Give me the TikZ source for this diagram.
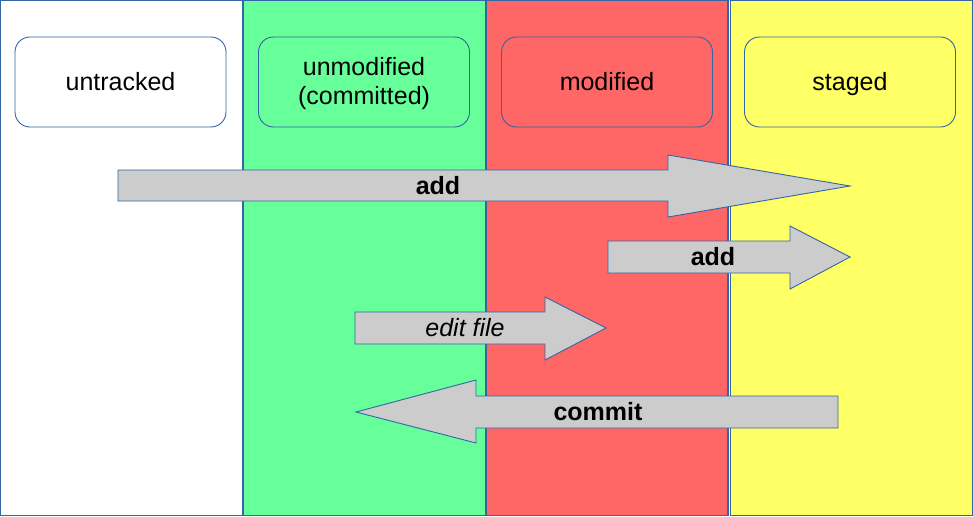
\documentclass[tikz,border=0pt]{standalone}
\usepackage{fontspec}
\setmainfont{Liberation Sans}
\begin{document}
\begin{tikzpicture}[x=1pt,y=-1pt,
  bordercol/.style={draw=blueline,line width=1.2pt},
  statebox/.style={draw=blueline,line width=0.9pt,rounded corners=15pt,minimum width=211pt,minimum height=90pt,inner sep=0pt},
  statelabel/.style={anchor=base,inner sep=0pt,font=\fontsize{25}{30}\selectfont},
  blockarrow/.style={draw=blueline,line width=0.9pt,fill=arrowgray},
  arrowlabel/.style={anchor=base,font=\fontsize{25}{30}\selectfont\bfseries,inner sep=0pt}]
\definecolor{blueline}{HTML}{3465A4}
\definecolor{colgreen}{HTML}{66FF99}
\definecolor{colred}{HTML}{FF6666}
\definecolor{colyellow}{HTML}{FFFF66}
\definecolor{arrowgray}{HTML}{CCCCCC}
\useasboundingbox (0,0) rectangle (973,516);
% columns
\path[bordercol,fill=white] (0.6,0.6) rectangle (243,515.4);
\path[bordercol,fill=colgreen] (243,0.6) rectangle (486,515.4);
\path[bordercol,fill=colred] (486,0.6) rectangle (728,515.4);
\path[bordercol,fill=colyellow] (730.5,0.6) rectangle (972.4,515.4);
% state boxes
\node[statebox,fill=white] (untracked) at (120.5,82) {};
\node[statelabel] (untrackedlabel) at (120.5,91) {untracked};
\node[statebox,fill=colgreen] (unmodified) at (364,82) {};
\node[statelabel] (unmodifiedlabel) at (364,76) {unmodified};
\node[statelabel] (committedlabel) at (364,104.5) {(committed)};
\node[statebox,fill=colred] (modified) at (607,82) {};
\node[statelabel] (modifiedlabel) at (607,91) {modified};
\node[statebox,fill=colyellow] (staged) at (850,82) {};
\node[statelabel] (stagedlabel) at (850,91) {staged};
% arrows
\draw[blockarrow] (118,170) -- (668,170) -- (668,155) -- (850,186) -- (668,217) -- (668,201) -- (118,201) -- cycle;
\node[arrowlabel] (addone) at (438,194.5) {add};
\draw[blockarrow] (608,241) -- (790,241) -- (790,226) -- (850,257) -- (790,289) -- (790,273) -- (608,273) -- cycle;
\node[arrowlabel] (addtwo) at (713,265.5) {add};
\draw[blockarrow] (355,312) -- (545,312) -- (545,297) -- (606,328) -- (545,360) -- (545,344) -- (355,344) -- cycle;
\node[arrowlabel,font=\fontsize{25}{30}\selectfont\itshape] (edit) at (465,336.5) {edit file};
\draw[blockarrow] (838,396) -- (476,396) -- (476,380) -- (356,412) -- (476,443) -- (476,428) -- (838,428) -- cycle;
\node[arrowlabel] (commit) at (598,420.5) {commit};
\end{tikzpicture}
\end{document}
